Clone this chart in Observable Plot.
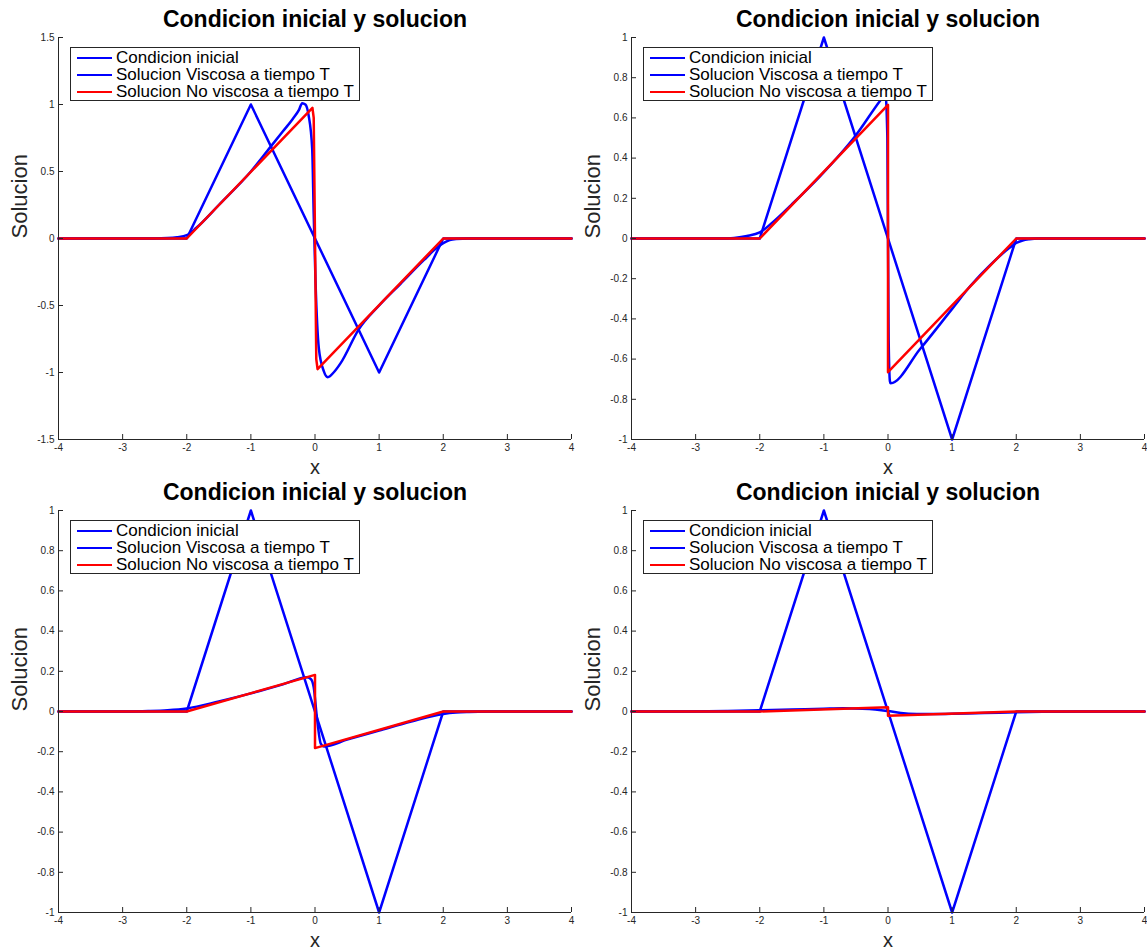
<!DOCTYPE html>
<html>
<head>
<meta charset="utf-8">
<script src="https://cdn.jsdelivr.net/npm/d3@7"></script>
<script src="https://cdn.jsdelivr.net/npm/@observablehq/plot@0.6"></script>
<style>
  body { margin: 0; background: #fff; font-family: "Liberation Sans", Arial, sans-serif; }
  #wrap { position: relative; width: 1147px; height: 951px; overflow: hidden; }
  .panel { position: absolute; width: 574px; height: 473px; }
  .legend { position: absolute; left: 70px; top: 47px; width: 288px; height: 52px;
            border: 1px solid #262626; background: #fff; font-size: 17px; color: #000; }
  .legend .row { position: absolute; left: 0; height: 17px; line-height: 17px; white-space: nowrap; }
  .legend .sw { position: absolute; left: 6px; top: 8px; width: 35px; height: 0; border-top: 2.5px solid; }
  .legend .tx { position: absolute; left: 45px; top: 0; }
</style>
</head>
<body>
<div id="wrap"></div>
<script>
// ---- shared text ----
const titleText = "Condicion inicial y solucion";
const xLabel = "x";
const yLabel = "Solucion";
const legendLabels = ["Condicion inicial", "Solucion Viscosa a tiempo T", "Solucion No viscosa a tiempo T"];
const legendColors = ["#0000ff", "#0000ff", "#ff0000"];

// ---- axes ----
const xTicks = [-4, -3, -2, -1, 0, 1, 2, 3, 4];
const yTicksA = [-1.5, -1, -0.5, 0, 0.5, 1, 1.5];
const yTicksB = [-1, -0.8, -0.6, -0.4, -0.2, 0, 0.2, 0.4, 0.6, 0.8, 1];

// ---- initial condition (same in all panels) ----
const initX = [-4, -2, -1, 1, 2, 4];
const initY = [0, 0, 1, -1, 0, 0];

// ---- panel 1 ----
const visc1X = [-4, -2.5, -2.3, -2.15, -2.0, -1.85, -1.5, -1.0, -0.7, -0.5, -0.35, -0.25, -0.2, -0.15, -0.1, -0.044, -0.02, 0.008, 0.06, 0.137, 0.2, 0.29, 0.4, 0.68, 1.0, 1.33, 1.7, 1.9, 2.0, 2.1, 2.2, 2.4, 4];
const visc1Y = [0, 0, 0.003, 0.01, 0.025, 0.08, 0.25, 0.5, 0.68, 0.8, 0.89, 0.96, 1.01, 1.0, 0.92, 0.67, 0.18, -0.32, -0.82, -0.99, -1.035, -1.0, -0.93, -0.68, -0.5, -0.34, -0.16, -0.07, -0.035, -0.012, -0.004, 0, 0];
const inv1X = [-4, -2, -0.04, -0.02, 0, 0.02, 0.04, 2, 4];
const inv1Y = [0, 0, 0.975, 0.9, 0, -0.9, -0.975, 0, 0];

// ---- panel 2 ----
const visc2X = [-4, -2.6, -2.4, -2.2, -2.0, -1.8, -1.5, -1.05, -0.51, -0.12, -0.04, -0.01, 0.01, 0.03, 0.04, 0.5, 1.0, 1.29, 1.6, 1.9, 2.0, 2.1, 2.2, 2.35, 4];
const visc2Y = [0, 0, 0.003, 0.012, 0.03, 0.08, 0.17, 0.313, 0.51, 0.687, 0.72, 0.5, -0.5, -0.71, -0.72, -0.55, -0.35, -0.234, -0.13, -0.045, -0.022, -0.01, -0.004, 0, 0];
const inv2X = [-4, -2, 0, 0, 2, 4];
const inv2Y = [0, 0, 0.665, -0.665, 0, 0];

// ---- panel 3 ----
const visc3X = [-4, -2.9, -2.6, -2.3, -2.0, -1.5, -1.0, -0.5, -0.12, -0.06, -0.02, 0.03, 0.09, 0.14, 0.5, 1.0, 1.5, 2.0, 2.2, 2.4, 2.7, 4];
const visc3Y = [0, 0, 0.002, 0.006, 0.015, 0.05, 0.09, 0.135, 0.171, 0.16, 0.12, -0.03, -0.16, -0.174, -0.14, -0.095, -0.05, -0.012, -0.005, -0.002, 0, 0];
const inv3X = [-4, -2, 0, 0, 2, 4];
const inv3Y = [0, 0, 0.182, -0.182, 0, 0];

// ---- panel 4 ----
const visc4X = [-4, -3.2, -2.8, -2.5, -2.0, -1.5, -1.0, -0.7, -0.4, -0.2, 0, 0.2, 0.45, 0.7, 1.0, 1.5, 2.0, 2.5, 3.0, 4];
const visc4Y = [0, 0.0005, 0.0015, 0.003, 0.006, 0.01, 0.014, 0.016, 0.014, 0.01, 0.002, -0.007, -0.012, -0.013, -0.011, -0.008, -0.004, -0.0015, -0.0005, 0];
const inv4X = [-4, -2, 0, 0, 2, 4];
const inv4Y = [0, 0, 0.021, -0.021, 0, 0];

const panels = [
  {left: 0,   top: 0,   yTicks: yTicksA, yDomain: [-1.5, 1.5], vx: visc1X, vy: visc1Y, ix: inv1X, iy: inv1Y},
  {left: 573, top: 0,   yTicks: yTicksB, yDomain: [-1, 1],     vx: visc2X, vy: visc2Y, ix: inv2X, iy: inv2Y},
  {left: 0,   top: 473, yTicks: yTicksB, yDomain: [-1, 1],     vx: visc3X, vy: visc3Y, ix: inv3X, iy: inv3Y},
  {left: 573, top: 473, yTicks: yTicksB, yDomain: [-1, 1],     vx: visc4X, vy: visc4Y, ix: inv4X, iy: inv4Y}
];

const zip = (xs, ys) => xs.map((x, i) => ({x, y: ys[i]}));
const axisColor = "#262626";
const fontFam = "'Liberation Sans', Arial, sans-serif";
const wrap = document.getElementById("wrap");

for (const p of panels) {
  const div = document.createElement("div");
  div.className = "panel";
  div.style.left = p.left + "px";
  div.style.top = p.top + "px";

  const chart = Plot.plot({
    width: 574,
    height: 473,
    marginLeft: 58,
    marginRight: 3,
    marginTop: 37,
    marginBottom: 34,
    style: {fontFamily: fontFam, background: "transparent", overflow: "visible"},
    x: {domain: [xTicks[0], xTicks[xTicks.length - 1]]},
    y: {domain: p.yDomain},
    marks: [
      Plot.line(zip(initX, initY), {x: "x", y: "y", stroke: legendColors[0], strokeWidth: 2.5}),
      Plot.line(zip(p.vx, p.vy), {x: "x", y: "y", stroke: legendColors[1], strokeWidth: 2.5, curve: "monotone-x"}),
      Plot.line(zip(p.ix, p.iy), {x: "x", y: "y", stroke: legendColors[2], strokeWidth: 2.5}),
      Plot.ruleY([p.yDomain[0]], {stroke: axisColor, strokeWidth: 1}),
      Plot.ruleX([xTicks[0]], {stroke: axisColor, strokeWidth: 1}),
      Plot.axisX(xTicks, {anchor: "bottom", tickSize: -5, tickPadding: 9, label: null,
        tickFormat: d => String(d), fontSize: 10, stroke: axisColor, fill: axisColor}),
      Plot.axisY(p.yTicks, {anchor: "left", tickSize: -5, tickPadding: 9, label: null,
        tickFormat: d => String(d), fontSize: 10, stroke: axisColor, fill: axisColor}),
      Plot.text([titleText], {frameAnchor: "top", dy: -18, fontSize: 23, fontWeight: "bold", fill: "#000", lineAnchor: "middle"}),
      Plot.text([xLabel], {frameAnchor: "bottom", dy: 28, fontSize: 20, fill: axisColor, lineAnchor: "middle"}),
      Plot.text([yLabel], {frameAnchor: "left", dx: -39, rotate: -90, fontSize: 22, fill: axisColor, lineAnchor: "middle"})
    ]
  });
  div.appendChild(chart);

  const leg = document.createElement("div");
  leg.className = "legend";
  legendLabels.forEach((lab, i) => {
    const row = document.createElement("div");
    row.className = "row";
    row.style.top = (1 + i * 17) + "px";
    row.style.width = "100%";
    const sw = document.createElement("div");
    sw.className = "sw";
    sw.style.borderTopColor = legendColors[i];
    const tx = document.createElement("span");
    tx.className = "tx";
    tx.textContent = lab;
    row.appendChild(sw);
    row.appendChild(tx);
    leg.appendChild(row);
  });
  div.appendChild(leg);
  wrap.appendChild(div);
}
</script>
</body>
</html>
